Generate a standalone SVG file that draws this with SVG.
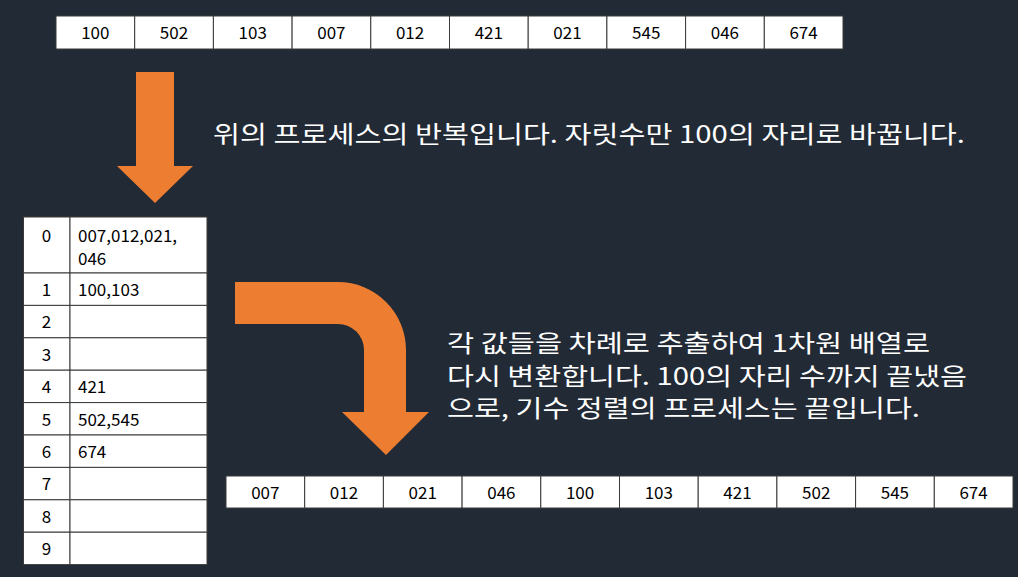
<svg xmlns="http://www.w3.org/2000/svg" width="1018" height="577" viewBox="0 0 1018 577">
<style>
.cell{fill:#ffffff;stroke:#3a3a3a;stroke-width:1}
.num{font-family:"Noto Sans CJK KR","Noto Sans",sans-serif;font-size:17px;fill:#000000}
.c{text-anchor:middle}
.txt{font-family:"Noto Sans CJK KR","Noto Sans",sans-serif;font-size:24px;fill:#ffffff}
.arrow{fill:#ED7D31}
</style>
<rect x="0" y="0" width="1018" height="577" fill="#222a35"/>
<g id="top-array">
<rect class="cell" x="56" y="16" width="78.7" height="33"/><text class="num c" x="95.3" y="39">100</text>
<rect class="cell" x="134.7" y="16" width="78.7" height="33"/><text class="num c" x="174" y="39">502</text>
<rect class="cell" x="213.4" y="16" width="78.7" height="33"/><text class="num c" x="252.7" y="39">103</text>
<rect class="cell" x="292.1" y="16" width="78.7" height="33"/><text class="num c" x="331.4" y="39">007</text>
<rect class="cell" x="370.8" y="16" width="78.7" height="33"/><text class="num c" x="410.1" y="39">012</text>
<rect class="cell" x="449.5" y="16" width="78.7" height="33"/><text class="num c" x="488.8" y="39">421</text>
<rect class="cell" x="528.2" y="16" width="78.7" height="33"/><text class="num c" x="567.5" y="39">021</text>
<rect class="cell" x="606.9" y="16" width="78.7" height="33"/><text class="num c" x="646.2" y="39">545</text>
<rect class="cell" x="685.6" y="16" width="78.7" height="33"/><text class="num c" x="724.9" y="39">046</text>
<rect class="cell" x="764.3" y="16" width="78.7" height="33"/><text class="num c" x="803.6" y="39">674</text>
</g>
<g id="down-arrow">
<polygon class="arrow" points="136,72 174,72 174,166 193,166 155,203 117,166 136,166"/>
</g>
<g id="caption-1">
<text class="txt" x="213" y="143" textLength="752" lengthAdjust="spacingAndGlyphs">위의 프로세스의 반복입니다. 자릿수만 100의 자리로 바꿉니다.</text>
</g>
<g id="bucket-table">
<rect class="cell" x="23.5" y="217" width="46.5" height="56"/><rect class="cell" x="70" y="217" width="137" height="56"/>
<text class="num c" x="46.5" y="242">0</text><text class="num" x="78" y="242">007,012,021,</text><text class="num" x="78" y="265">046</text>
<rect class="cell" x="23.5" y="273" width="46.5" height="32.4"/><rect class="cell" x="70" y="273" width="137" height="32.4"/>
<text class="num c" x="46.5" y="296">1</text><text class="num" x="78" y="296">100,103</text>
<rect class="cell" x="23.5" y="305.4" width="46.5" height="32.4"/><rect class="cell" x="70" y="305.4" width="137" height="32.4"/>
<text class="num c" x="46.5" y="328.4">2</text>
<rect class="cell" x="23.5" y="337.8" width="46.5" height="32.4"/><rect class="cell" x="70" y="337.8" width="137" height="32.4"/>
<text class="num c" x="46.5" y="360.8">3</text>
<rect class="cell" x="23.5" y="370.2" width="46.5" height="32.4"/><rect class="cell" x="70" y="370.2" width="137" height="32.4"/>
<text class="num c" x="46.5" y="393.2">4</text><text class="num" x="78" y="393.2">421</text>
<rect class="cell" x="23.5" y="402.6" width="46.5" height="32.4"/><rect class="cell" x="70" y="402.6" width="137" height="32.4"/>
<text class="num c" x="46.5" y="425.6">5</text><text class="num" x="78" y="425.6">502,545</text>
<rect class="cell" x="23.5" y="435" width="46.5" height="32.4"/><rect class="cell" x="70" y="435" width="137" height="32.4"/>
<text class="num c" x="46.5" y="458">6</text><text class="num" x="78" y="458">674</text>
<rect class="cell" x="23.5" y="467.4" width="46.5" height="32.4"/><rect class="cell" x="70" y="467.4" width="137" height="32.4"/>
<text class="num c" x="46.5" y="490.4">7</text>
<rect class="cell" x="23.5" y="499.8" width="46.5" height="32.4"/><rect class="cell" x="70" y="499.8" width="137" height="32.4"/>
<text class="num c" x="46.5" y="522.8">8</text>
<rect class="cell" x="23.5" y="532.2" width="46.5" height="32.4"/><rect class="cell" x="70" y="532.2" width="137" height="32.4"/>
<text class="num c" x="46.5" y="555.2">9</text>
</g>
<g id="bent-arrow">
<path class="arrow" d="M235,282 L338,282 A68,68 0 0 1 406,350 L406,412 L429,412 L386,455 L342,412 L364,412 L364,350 A26,26 0 0 0 338,324 L235,324 Z"/>
</g>
<g id="caption-2">
<text class="txt" x="447" y="352" textLength="483" lengthAdjust="spacingAndGlyphs">각 값들을 차례로 추출하여 1차원 배열로</text>
<text class="txt" x="447" y="385" textLength="520" lengthAdjust="spacingAndGlyphs">다시 변환합니다. 100의 자리 수까지 끝냈음</text>
<text class="txt" x="447" y="417" textLength="473" lengthAdjust="spacingAndGlyphs">으로, 기수 정렬의 프로세스는 끝입니다.</text>
</g>
<g id="sorted-array">
<rect class="cell" x="226" y="476" width="78.7" height="32"/><text class="num c" x="265.3" y="498.5">007</text>
<rect class="cell" x="304.7" y="476" width="78.7" height="32"/><text class="num c" x="344" y="498.5">012</text>
<rect class="cell" x="383.4" y="476" width="78.7" height="32"/><text class="num c" x="422.7" y="498.5">021</text>
<rect class="cell" x="462.1" y="476" width="78.7" height="32"/><text class="num c" x="501.4" y="498.5">046</text>
<rect class="cell" x="540.8" y="476" width="78.7" height="32"/><text class="num c" x="580.1" y="498.5">100</text>
<rect class="cell" x="619.5" y="476" width="78.7" height="32"/><text class="num c" x="658.8" y="498.5">103</text>
<rect class="cell" x="698.2" y="476" width="78.7" height="32"/><text class="num c" x="737.5" y="498.5">421</text>
<rect class="cell" x="776.9" y="476" width="78.7" height="32"/><text class="num c" x="816.2" y="498.5">502</text>
<rect class="cell" x="855.6" y="476" width="78.7" height="32"/><text class="num c" x="894.9" y="498.5">545</text>
<rect class="cell" x="934.3" y="476" width="78.7" height="32"/><text class="num c" x="973.6" y="498.5">674</text>
</g>
</svg>
